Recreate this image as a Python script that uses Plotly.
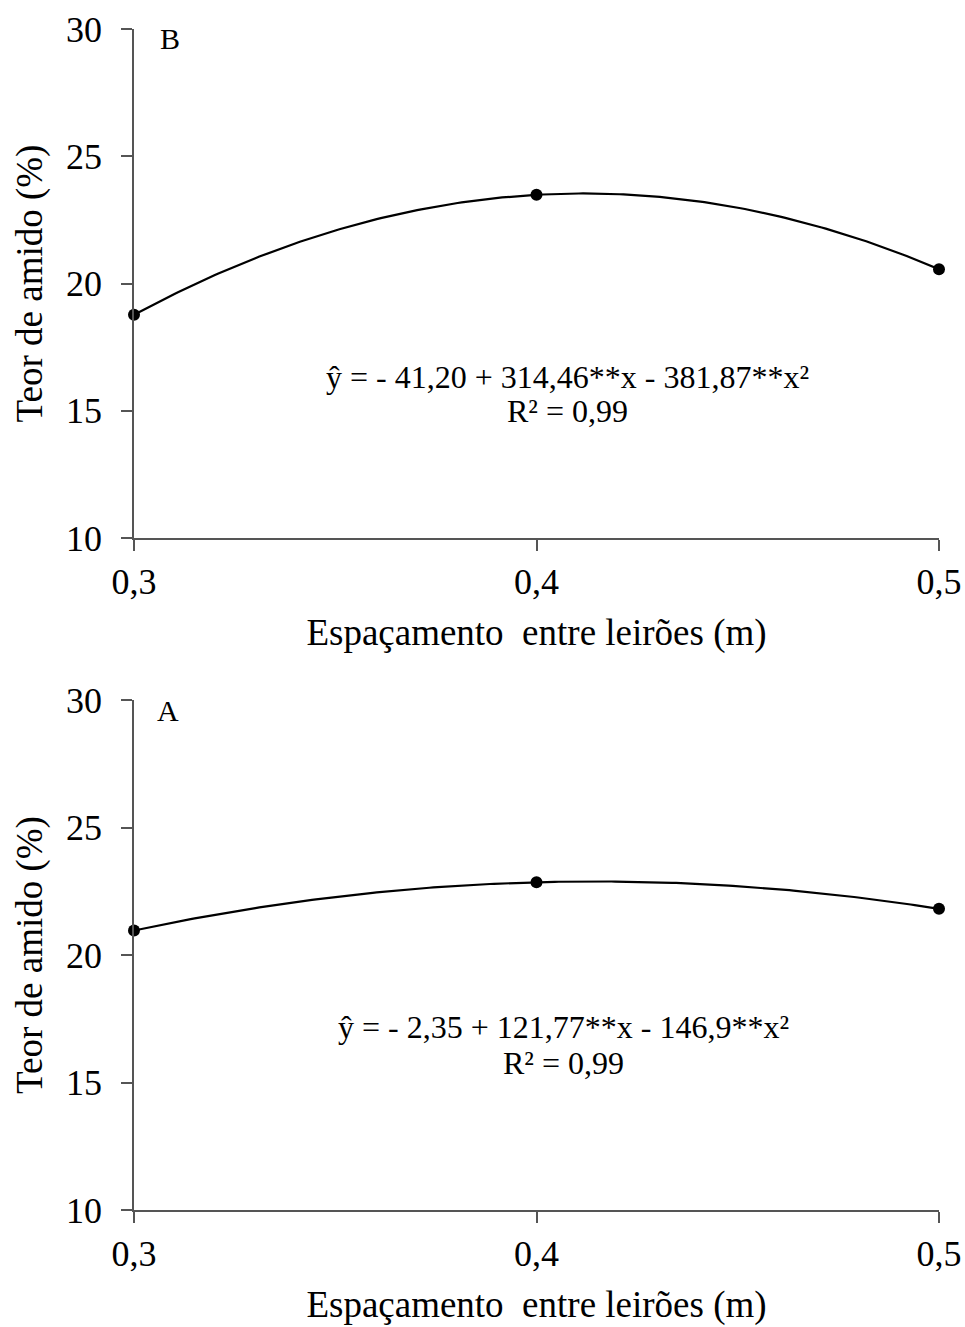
import numpy as np
import plotly.graph_objects as go

# ---------------- data ----------------
x_points = [0.3, 0.4, 0.5]
# Panel B (top)
y_B = [18.77, 23.49, 20.56]
coef_B = [-41.20, 314.46, -381.87]  # b0, b1, b2 of the printed regression
# Panel A (bottom)
y_A = [20.96, 22.85, 21.81]
coef_A = [-2.35, 121.77, -146.9]

x_tickvals = [0.3, 0.4, 0.5]
x_ticktext = ["0,3", "0,4", "0,5"]
y_tickvals = [10, 15, 20, 25, 30]
y_ticktext = ["10", "15", "20", "25", "30"]

eq_B = "ŷ = - 41,20 + 314,46**x - 381,87**x²"
eq_A = "ŷ = - 2,35 + 121,77**x - 146,9**x²"
r2_text = "R² = 0,99"
panel_labels = ["B", "A"]
x_title = "Espaçamento\u00a0 entre leirões (m)"
y_title = "Teor de amido (%)"

# ---------------- layout constants ----------------
W, H = 965, 1327
FONT = "Liberation Serif"
AXC = "#555555"

xd = [134 / W, 939 / W]
top_dom = [1 - 538 / H, 1 - 29 / H]
bot_dom = [1 - 1210 / H, 1 - 700 / H]

xs = np.linspace(x_points[0], x_points[-1], 200)


def curve(c):
    return c[0] + c[1] * xs + c[2] * xs ** 2


fig = go.Figure()

for (yv, c, xa, ya) in [(y_B, coef_B, "x", "y"), (y_A, coef_A, "x2", "y2")]:
    fig.add_trace(go.Scatter(x=xs, y=curve(c), mode="lines",
                             line=dict(color="black", width=2.2),
                             xaxis=xa, yaxis=ya, showlegend=False,
                             hoverinfo="skip", cliponaxis=False))
    fig.add_trace(go.Scatter(x=x_points, y=yv, mode="markers",
                             marker=dict(color="black", size=12),
                             xaxis=xa, yaxis=ya, showlegend=False,
                             cliponaxis=False))

xaxis_common = dict(range=[0.3, 0.5], tickvals=x_tickvals, ticktext=x_ticktext,
                    showline=True, linecolor=AXC, linewidth=1.5,
                    ticks="outside", ticklen=11, tickcolor=AXC, tickwidth=1.5,
                    showgrid=False, zeroline=False, domain=xd, automargin=False,
                    tickfont=dict(family=FONT, size=36, color="black"),
                    ticklabelstandoff=0,
                    title=dict(text=x_title, font=dict(family=FONT, size=37, color="black"),
                               standoff=18))
yaxis_common = dict(range=[10, 30], tickvals=y_tickvals, ticktext=y_ticktext,
                    showline=True, linecolor=AXC, linewidth=1.5,
                    ticks="outside", ticklen=11, tickcolor=AXC, tickwidth=1.5,
                    showgrid=False, zeroline=False, automargin=False,
                    tickfont=dict(family=FONT, size=36, color="black"),
                    ticklabelstandoff=12,
                    title=dict(text=y_title, font=dict(family=FONT, size=37, color="black"),
                               standoff=12))

fig.update_layout(
    width=W, height=H,
    margin=dict(l=0, r=0, t=0, b=0, autoexpand=False),
    paper_bgcolor="white", plot_bgcolor="white",
    font=dict(family=FONT, color="black"),
    xaxis=dict(**xaxis_common, anchor="y"),
    yaxis=dict(**yaxis_common, domain=top_dom, anchor="x"),
    xaxis2=dict(**xaxis_common, anchor="y2"),
    yaxis2=dict(**yaxis_common, domain=bot_dom, anchor="x2"),
)

annots = [
    # panel letters
    dict(text=panel_labels[0], x=0.045, y=0.981, xref="x domain", yref="y domain"),
    dict(text=panel_labels[1], x=0.042, y=0.980, xref="x2 domain", yref="y2 domain"),
    # equations
    dict(text=eq_B, x=0.538, y=0.316, xref="x domain", yref="y domain"),
    dict(text=r2_text, x=0.538, y=0.249, xref="x domain", yref="y domain"),
    dict(text=eq_A, x=0.533, y=0.359, xref="x2 domain", yref="y2 domain"),
    dict(text=r2_text, x=0.533, y=0.289, xref="x2 domain", yref="y2 domain"),
]
for i, a in enumerate(annots):
    size = 32 if i >= 2 else 30
    fig.add_annotation(**a, showarrow=False, xanchor="center", yanchor="middle",
                       font=dict(family=FONT, size=size, color="black"))

fig.write_html("out.html", config={"displayModeBar": False},
               post_script="document.body.style.margin='0';document.body.style.padding='0';")
